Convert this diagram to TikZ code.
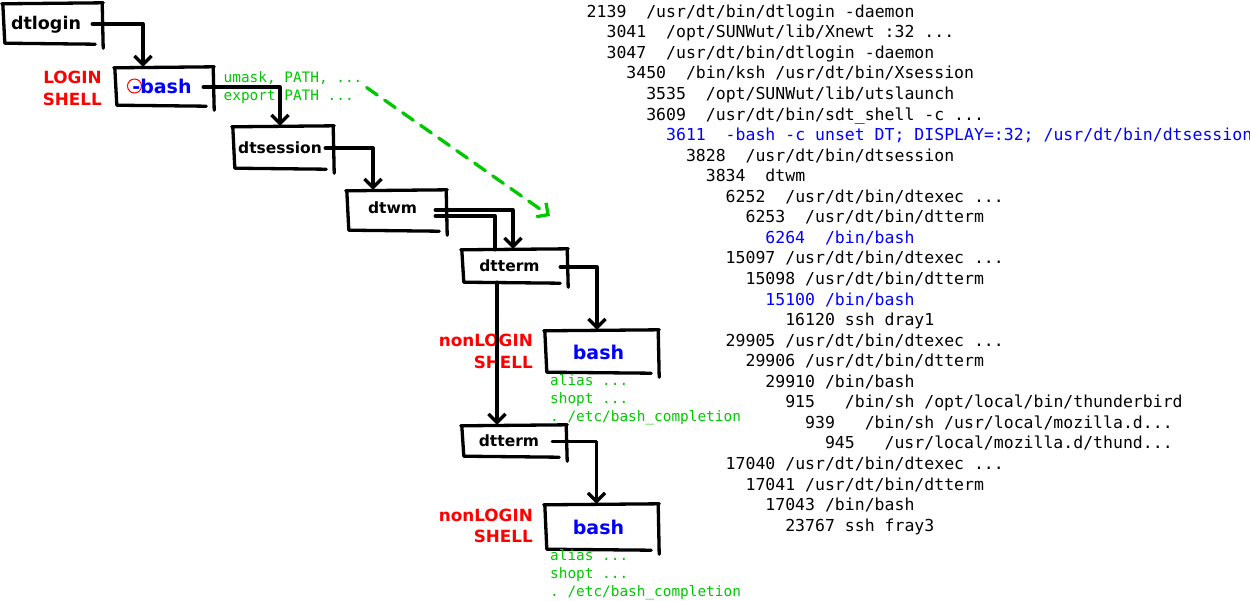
\documentclass[tikz,border=0pt]{standalone}
\usepackage{fontspec}
\setmainfont{DejaVu Sans}
\newfontfamily\monof{DejaVu Sans Mono}
\usetikzlibrary{arrows.meta}
\frenchspacing
\definecolor{gr}{RGB}{0,200,0}
\definecolor{bl}{RGB}{0,0,255}
\definecolor{rd}{RGB}{255,0,0}
\newcommand\pline[6][black]{\node[lst,text=#1] (#2) at ({586.5+9.93*#4},{17.2+20.56*(#3-1)}) {\makebox[6\fontcharwd\font`0][l]{#5}#6};}
\newcommand\skbox[1]{%
  \draw[sk] ([shift={(-1,0)}]#1.north west) -- ([shift={(1,-1)}]#1.north east);
  \draw[sk] ([shift={(0,0)}]#1.north west) -- ([shift={(2,0)}]#1.south west) -- ([shift={(-7,1)}]#1.south east);
  \draw[sk] ([shift={(0,-1)}]#1.north east) -- ([shift={(1,5)}]#1.south east);
}
\begin{document}
\begin{tikzpicture}[x=1pt,y=-1pt,line cap=round,line join=round,
  sk/.style={line width=3.3pt,black},
  conn/.style={line width=3.3pt,black,-{Straight Barb[length=8.5pt,width=17pt]}},
  plain/.style={line width=3.3pt,black},
  box/.style={inner sep=0pt,draw=none},
  lbl/.style={font=\bfseries\fontsize{15.5}{18}\selectfont,anchor=base,inner sep=0pt},
  blbl/.style={font=\bfseries\fontsize{19}{22}\selectfont,text=bl,anchor=base,inner sep=0pt},
  shl/.style={font=\bfseries\fontsize{16.8}{20}\selectfont,text=rd,anchor=base east,inner sep=0pt},
  gtxt/.style={font=\monof\fontsize{14.4}{18}\selectfont,text=gr,anchor=base west,inner sep=0pt},
  lst/.style={font=\monof\fontsize{16.5}{20}\selectfont,anchor=base west,inner sep=0pt}]
\useasboundingbox (0,0) rectangle (1250,600);

% boxes
\node[box,minimum width=99pt,minimum height=39pt] (dtlogin) at (52.5,23.5) {};
\node[box,minimum width=98pt,minimum height=37pt] (bash0) at (164,86.5) {};
\node[box,minimum width=100pt,minimum height=41pt] (dtsession) at (283,147.5) {};
\node[box,minimum width=99pt,minimum height=39pt] (dtwm) at (396.5,210.5) {};
\node[box,minimum width=105pt,minimum height=32pt] (dtterm1) at (514.5,266) {};
\node[box,minimum width=113pt,minimum height=41pt] (bash1) at (601.5,351.5) {};
\node[box,minimum width=104pt,minimum height=30pt] (dtterm2) at (514,441) {};
\node[box,minimum width=113pt,minimum height=44pt] (bash2) at (601.5,527) {};
\skbox{dtlogin}\skbox{bash0}\skbox{dtsession}\skbox{dtwm}
\skbox{dtterm1}\skbox{bash1}\skbox{dtterm2}\skbox{bash2}

% box labels
\node[lbl,font=\bfseries\fontsize{17.5}{20}\selectfont] (dtloginT) at (46,29.5) {dtlogin};
\draw[rd,line width=1pt] (134.5,86) circle[radius=7pt];
\node[blbl] (bash0T) at (162,93) {-bash};
\node[lbl] (dtsessionT) at (280,153) {dtsession};
\node[lbl] (dtwmT) at (392.5,213) {dtwm};
\node[lbl] (dtterm1T) at (509.5,271) {dtterm};
\node[blbl] (bash1T) at (598.5,359) {bash};
\node[lbl] (dtterm2T) at (509,446) {dtterm};
\node[blbl] (bash2T) at (598.5,534) {bash};

% red labels
\node[shl] (login1) at (102,83.5) {LOGIN};
\node[shl] (login2) at (102,105) {SHELL};
\node[shl] (nl1a) at (533,346.7) {nonLOGIN};
\node[shl] (nl1b) at (533,368.3) {SHELL};
\node[shl] (nl2a) at (533,521.7) {nonLOGIN};
\node[shl] (nl2b) at (533,542.7) {SHELL};

% green texts
\node[gtxt] (umask) at (223.5,82.5) {umask, PATH, ...};
\node[gtxt] (export) at (223.5,100.5) {export PATH ...};
\node[gtxt] (al1) at (550,385.7) {alias ...};
\node[gtxt] (sh1) at (550,403.5) {shopt ...};
\node[gtxt] (bc1) at (550,421.5) {. /etc/bash\_completion};
\node[gtxt] (al2) at (550,560.7) {alias ...};
\node[gtxt] (sh2) at (550,578.7) {shopt ...};
\node[gtxt] (bc2) at (550,596.7) {. /etc/bash\_completion};

% connectors
\draw[conn] ([shift={(-10,0.5)}]dtlogin.east) -| ([shift={(-21,-1)}]bash0.north);
\draw[conn] ([shift={(-10,0.5)}]bash0.east) -| ([shift={(-3,-1)}]dtsession.north);
\draw[conn] ([shift={(-8,0.5)}]dtsession.east) -| ([shift={(-23.5,-1)}]dtwm.north);
\draw[conn] ([shift={(-11,-0.5)}]dtwm.east) -| ([shift={(-1.5,-1)}]dtterm1.north);
\draw[plain] ([shift={(-11,5.5)}]dtwm.east) -| ([shift={(-19.5,0)}]dtterm1.north);
\draw[conn] ([shift={(-17.5,0)}]dtterm1.south) -- ([shift={(-17,-1)}]dtterm2.north);
\draw[conn] ([shift={(-7,1)}]dtterm1.east) -| ([shift={(-4.5,-1)}]bash1.north);
\draw[conn] ([shift={(-14,0.5)}]dtterm2.east) -| ([shift={(-5,-1)}]bash2.north);

\coordinate (gtip) at (550,216);
\draw[gr,line width=3.3pt,dash pattern=on 13pt off 9pt,-{Straight Barb[length=8.5pt,width=17pt]}]
  ([shift={(4,5)}]umask.base east) -- (gtip);

% process listing
\pline{p1}{1}{0}{2139}{/usr/dt/bin/dtlogin -daemon}
\pline{p2}{2}{2}{3041}{/opt/SUNWut/lib/Xnewt :32 ...}
\pline{p3}{3}{2}{3047}{/usr/dt/bin/dtlogin -daemon}
\pline{p4}{4}{4}{3450}{/bin/ksh /usr/dt/bin/Xsession}
\pline{p5}{5}{6}{3535}{/opt/SUNWut/lib/utslaunch}
\pline{p6}{6}{6}{3609}{/usr/dt/bin/sdt\_shell -c ...}
\pline[bl]{p7}{7}{8}{3611}{-bash -c unset DT; DISPLAY=:32; /usr/dt/bin/dtsession}
\pline{p8}{8}{10}{3828}{/usr/dt/bin/dtsession}
\pline{p9}{9}{12}{3834}{dtwm}
\pline{p10}{10}{14}{6252}{/usr/dt/bin/dtexec ...}
\pline{p11}{11}{16}{6253}{/usr/dt/bin/dtterm}
\pline[bl]{p12}{12}{18}{6264}{/bin/bash}
\pline{p13}{13}{14}{15097}{/usr/dt/bin/dtexec ...}
\pline{p14}{14}{16}{15098}{/usr/dt/bin/dtterm}
\pline[bl]{p15}{15}{18}{15100}{/bin/bash}
\pline{p16}{16}{20}{16120}{ssh dray1}
\pline{p17}{17}{14}{29905}{/usr/dt/bin/dtexec ...}
\pline{p18}{18}{16}{29906}{/usr/dt/bin/dtterm}
\pline{p19}{19}{18}{29910}{/bin/bash}
\pline{p20}{20}{20}{915}{/bin/sh /opt/local/bin/thunderbird}
\pline{p21}{21}{22}{939}{/bin/sh /usr/local/mozilla.d...}
\pline{p22}{22}{24}{945}{/usr/local/mozilla.d/thund...}
\pline{p23}{23}{14}{17040}{/usr/dt/bin/dtexec ...}
\pline{p24}{24}{16}{17041}{/usr/dt/bin/dtterm}
\pline{p25}{25}{18}{17043}{/bin/bash}
\pline{p26}{26}{20}{23767}{ssh fray3}
\end{tikzpicture}
\end{document}
